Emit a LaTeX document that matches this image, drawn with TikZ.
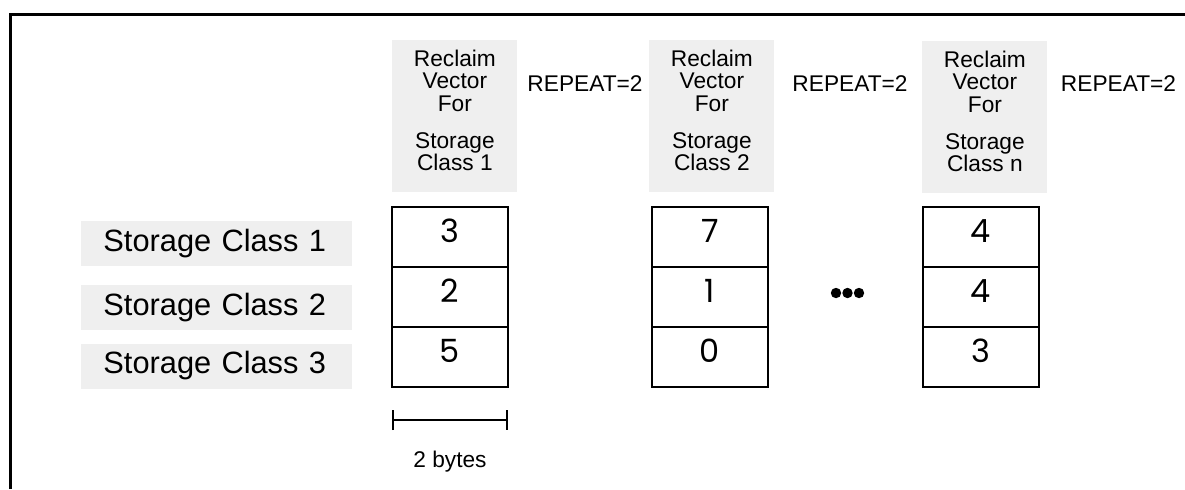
\documentclass[tikz,border=0pt]{standalone}
\usepackage{fontspec}
\setmainfont{Liberation Sans}
\newfontfamily\digitfont{Poppins}
\usetikzlibrary{arrows.meta,positioning,calc}
\definecolor{panelgray}{RGB}{239,239,239}
\newcommand{\padbelow}{\rule[-6pt]{0pt}{0pt}}

\begin{document}
\begin{tikzpicture}[
    x=0.5pt, y=-0.5pt,
    hdr/.style={
      rectangle, fill=panelgray, minimum width=62.5pt, minimum height=76pt,
      inner sep=0pt, align=center, font=\fontsize{11.35}{11.25}\selectfont
    },
    rep/.style={inner sep=0pt, font=\fontsize{11.35}{13}\selectfont},
    sclass/.style={
      rectangle, fill=panelgray, text width=113.5pt, inner xsep=11pt,
      minimum height=22.5pt, align=left, font=\fontsize{15.4}{18}\selectfont
    },
    cell/.style={
      rectangle, draw, line width=1.15pt, minimum width=58pt, minimum height=30pt,
      inner sep=0pt, outer sep=0pt, text height=11.2pt, text depth=6pt,
      font=\digitfont\fontsize{16}{18}\selectfont
    },
    scalebar/.style={{Bar[width=10pt]}-{Bar[width=10pt]}, line width=1.15pt}
  ]
  \useasboundingbox (0,0) rectangle (1185,489);
  \draw[line width=1.25pt] (10.5,489) -- (10.5,14.5) -- (1185,14.5);

  % reclaim vector headers
  \node[hdr, anchor=north west] (rv1) at (392,40)
    {Reclaim\\Vector\\For\\[7.25pt]Storage\\Class 1\padbelow};
  \node[hdr, anchor=north west] (rv2) at (649,40)
    {Reclaim\\Vector\\For\\[7.25pt]Storage\\Class 2\padbelow};
  \node[hdr, anchor=north west] (rvn) at (922,41)
    {Reclaim\\Vector\\For\\[7.25pt]Storage\\Class n\padbelow};

  \node[rep, anchor=base] (rep1) at (585,91) {REPEAT=2};
  \node[rep, anchor=base] (rep2) at (850,91) {REPEAT=2};
  \node[rep, anchor=base] (rep3) at (1118.5,91) {REPEAT=2};

  % storage classes
  \node[sclass, anchor=west] (sc1) at (81,243.5) {Storage Class 1};
  \node[sclass, anchor=west] (sc2) at (81,307.5) {Storage Class 2};
  \node[sclass, anchor=west] (sc3) at (81,366) {Storage Class 3};

  % vectors
  \node[cell, anchor=north west] (c11) at (392,207) {3};
  \node[cell, below=0pt of c11] (c12) {2};
  \node[cell, below=0pt of c12] (c13) {5};

  \node[cell, anchor=north west] (c21) at (652,207) {7};
  \node[cell, below=0pt of c21] (c22) {1};
  \node[cell, below=0pt of c22] (c23) {0};

  \node[cell, anchor=north west] (c31) at (923,207) {4};
  \node[cell, below=0pt of c31] (c32) {4};
  \node[cell, below=0pt of c32] (c33) {3};

  \foreach \dx in {0,11.5,23}
    \fill (836+\dx,293) circle (2.6pt);

  \coordinate (bl) at ($(c13.south west)+(0,33)$);
  \coordinate (br) at ($(c13.south east)+(0,33)$);
  \draw[scalebar] (bl) -- (br)
    node[midway, below=15pt, inner sep=0pt,
         font=\fontsize{11.35}{13}\selectfont] (bytes) {2 bytes};
\end{tikzpicture}
\end{document}
